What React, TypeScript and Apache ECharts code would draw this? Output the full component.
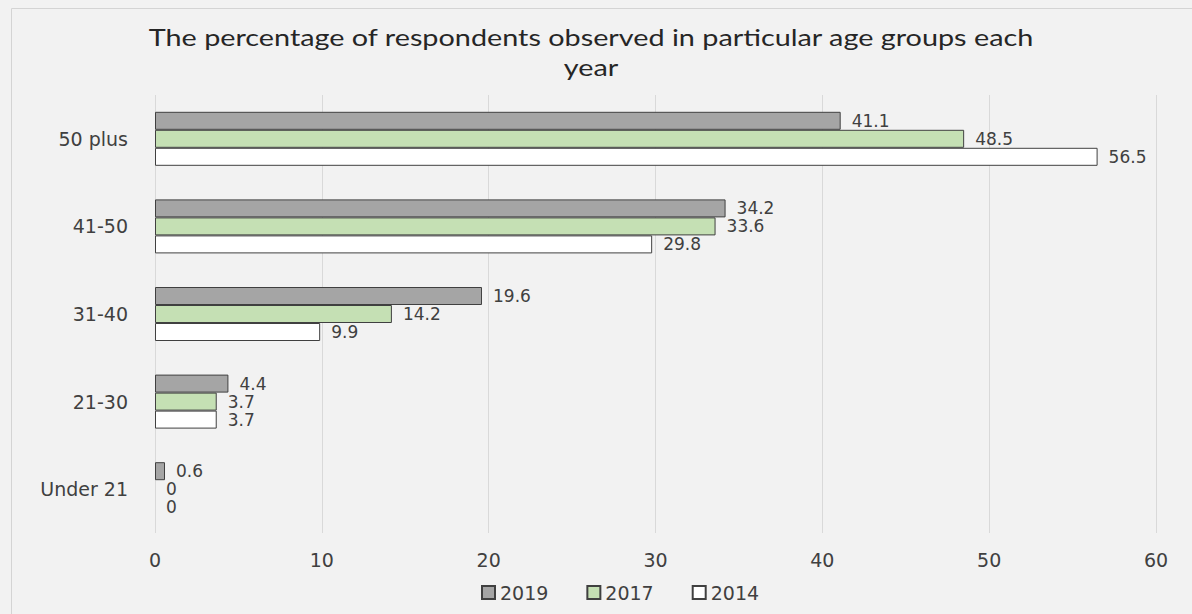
import React, { useEffect, useRef } from "react";
import * as echarts from "echarts";

const categories = ["50 plus", "41-50", "31-40", "21-30", "Under 21"];
const values2019 = [41.1, 34.2, 19.6, 4.4, 0.6];
const values2017 = [48.5, 33.6, 14.2, 3.7, 0];
const values2014 = [56.5, 29.8, 9.9, 3.7, 0];
const seriesNames = ["2019", "2017", "2014"];
const titleLines = [
  "The percentage of respondents observed in particular age groups each",
  "year",
];
const xTicks = { min: 0, max: 60, interval: 10 };

const TEXT = "#404040";
const FONT = "DejaVu Sans";
const FS = 19;

export default function App() {
  const ref = useRef<HTMLDivElement>(null);
  useEffect(() => {
    document.body.style.margin = "0";
    const chart = echarts.init(ref.current!, null, { renderer: "svg" });
    const mkSeries = (name: string, data: number[], color: string) => ({
      name,
      type: "bar",
      data: data.map((v) => (v === 0 ? { value: v, itemStyle: { borderWidth: 0 } } : v)),
      barWidth: 18,
      barGap: "0%",
      itemStyle: { color, borderColor: "#404040", borderWidth: 1 },
      label: {
        show: true,
        position: "right",
        distance: 11,
        color: TEXT,
        fontFamily: FONT,
        fontSize: 17,
        lineHeight: 17,
      },
    });
    chart.setOption({
      animation: false,
      backgroundColor: "#f2f2f2",
      graphic: [
        {
          type: "rect",
          shape: { x: 11.5, y: 8.5, width: 1300, height: 800 },
          style: { fill: "none", stroke: "#d4d4d4", lineWidth: 1 },
          silent: true,
        },
        ...titleLines.map((t, i) => ({
          type: "text",
          x: 591,
          y: 37 + i * 30,
          scaleX: 1.2,
          silent: true,
          style: {
            text: t,
            align: "center",
            verticalAlign: "middle",
            fontFamily: "Lato",
            fontSize: 24,
            fill: "#262626",
          },
        })),
      ],
      legend: {
        data: seriesNames,
        bottom: 7,
        left: 476,
        itemWidth: 13,
        itemHeight: 13,
        itemGap: 38,
        icon: "rect",
        textStyle: { color: TEXT, fontFamily: FONT, fontSize: FS },
      },
      grid: { left: 155, right: 36, top: 95, bottom: 81, containLabel: false },
      xAxis: {
        type: "value",
        min: xTicks.min,
        max: xTicks.max,
        interval: xTicks.interval,
        axisLine: { show: false },
        axisTick: { show: false },
        axisLabel: { color: TEXT, fontFamily: FONT, fontSize: FS, margin: 17 },
        splitLine: { lineStyle: { color: "#d9d9d9" } },
      },
      yAxis: {
        type: "category",
        data: categories,
        inverse: true,
        axisLine: { show: false },
        axisTick: { show: false },
        axisLabel: { color: TEXT, fontFamily: FONT, fontSize: FS, margin: 27 },
      },
      series: [
        mkSeries(seriesNames[0], values2019, "#a5a5a5"),
        mkSeries(seriesNames[1], values2017, "#c5e0b4"),
        mkSeries(seriesNames[2], values2014, "#ffffff"),
      ],
    });
    return () => chart.dispose();
  }, []);
  return <div ref={ref} style={{ width: 1192, height: 614 }} />;
}
